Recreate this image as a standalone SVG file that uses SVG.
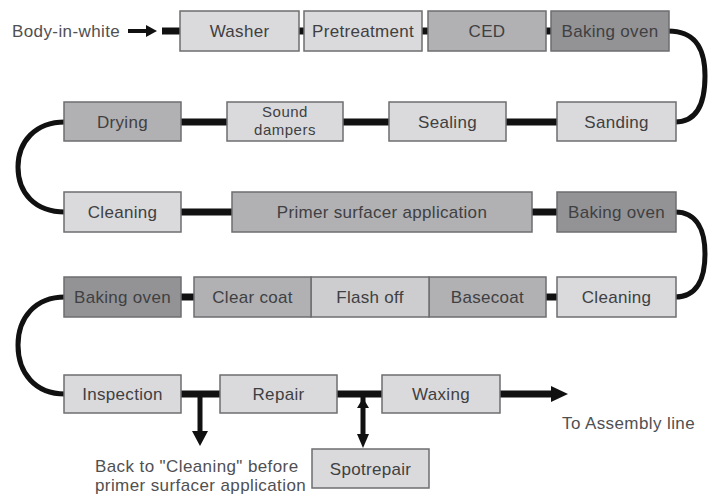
<svg xmlns="http://www.w3.org/2000/svg" width="710" height="497" viewBox="0 0 710 497">
  <style>
    .box { stroke: #6e6e70; stroke-width: 1.5; }
    .light { fill: #dadadc; }
    .mid { fill: #b1b1b4; }
    .dark { fill: #939396; }
    .flash { fill: #cdcdcf; }
    .lbl { font-family: "Liberation Sans", Arial, sans-serif; font-size: 17px; letter-spacing: 0.3px; fill: #404042; text-anchor: middle; }
    .lbl2 { font-family: "Liberation Sans", Arial, sans-serif; font-size: 15px; letter-spacing: 0.5px; fill: #404042; text-anchor: middle; }
    .note { font-family: "Liberation Sans", Arial, sans-serif; font-size: 17px; letter-spacing: 0.4px; fill: #505052; }
    .bar { stroke: #111; stroke-width: 7; fill: none; }
    .curve { stroke: #111; stroke-width: 5; fill: none; }
    .head { fill: #111; }
  </style>

  <rect width="710" height="497" fill="#ffffff"/>

  <!-- connectors -->
  <g id="connectors">
    <!-- row 1 -->
    <text class="note" x="12" y="37">Body-in-white</text>
    <line x1="128" y1="31" x2="149" y2="31" stroke="#111" stroke-width="4"/>
    <polygon class="head" points="146,25 157,31 146,37"/>
    <line class="bar" x1="162" y1="31" x2="181" y2="31"/>
    <line class="bar" x1="298" y1="31" x2="305" y2="31"/>
    <line class="bar" x1="421" y1="31" x2="429" y2="31"/>
    <line class="bar" x1="545" y1="31" x2="552" y2="31"/>
    <path class="curve" d="M668,31 C698,31 705,52 705,76 C705,101 698,122 675,122"/>
    <!-- row 2 -->
    <line class="bar" x1="505" y1="122" x2="558" y2="122"/>
    <line class="bar" x1="342" y1="122" x2="390" y2="122"/>
    <line class="bar" x1="180" y1="122" x2="228" y2="122"/>
    <path class="curve" d="M65,122 C35,122 18,142 18,167 C18,193 35,212 65,212"/>
    <!-- row 3 -->
    <line class="bar" x1="180" y1="212" x2="233" y2="212"/>
    <line class="bar" x1="531" y1="212" x2="558" y2="212"/>
    <path class="curve" d="M675,212 C698,212 705,232 705,254 C705,277 698,297 675,297"/>
    <!-- row 4 -->
    <line class="bar" x1="545" y1="297" x2="558" y2="297"/>
    <line class="bar" x1="180" y1="297" x2="195" y2="297"/>
    <path class="curve" d="M65,297 C35,297 18,318 18,345 C18,373 35,394 65,394"/>
    <!-- row 5 -->
    <line class="bar" x1="180" y1="394" x2="221" y2="394"/>
    <line class="bar" x1="336" y1="394" x2="383" y2="394"/>
    <line class="bar" x1="499" y1="394" x2="554" y2="394"/>
    <polygon class="head" points="551,386 568,394 551,402"/>
    <!-- back to cleaning -->
    <line x1="200" y1="394" x2="200" y2="433" stroke="#111" stroke-width="5"/>
    <polygon class="head" points="192,431 208,431 200,446"/>
    <!-- spot repair -->
    <line x1="363" y1="394" x2="363" y2="436" stroke="#111" stroke-width="5"/>
    <polygon class="head" points="357,408 369,408 363,398"/>
    <polygon class="head" points="357,434 369,434 363,448"/>
    <text class="note" x="562" y="429">To Assembly line</text>
    <text class="note" x="95" y="472">Back to "Cleaning" before</text>
    <text class="note" x="95" y="491">primer surfacer application</text>
  </g>

  <!-- row 1 -->
  <g id="washer"><rect class="box light" x="180" y="11" width="119" height="40"/><text class="lbl" x="239.5" y="37">Washer</text></g>
  <g id="pretreatment"><rect class="box light" x="304" y="11" width="118" height="40"/><text class="lbl" x="363" y="37">Pretreatment</text></g>
  <g id="ced"><rect class="box mid" x="428" y="11" width="118" height="40"/><text class="lbl" x="487" y="37">CED</text></g>
  <g id="baking1"><rect class="box dark" x="551" y="11" width="118" height="40"/><text class="lbl" x="610" y="37">Baking oven</text></g>

  <!-- row 2 -->
  <g id="sanding"><rect class="box light" x="557" y="102" width="119" height="39"/><text class="lbl" x="616.5" y="128">Sanding</text></g>
  <g id="sealing"><rect class="box light" x="389" y="102" width="117" height="39"/><text class="lbl" x="447.5" y="128">Sealing</text></g>
  <g id="sound-dampers"><rect class="box light" x="227" y="102" width="116" height="39"/><text class="lbl2" x="285" y="117">Sound</text><text class="lbl2" x="285" y="135">dampers</text></g>
  <g id="drying"><rect class="box mid" x="64" y="102" width="117" height="39"/><text class="lbl" x="122.5" y="128">Drying</text></g>

  <!-- row 3 -->
  <g id="cleaning1"><rect class="box light" x="64" y="192" width="117" height="40"/><text class="lbl" x="122.5" y="218">Cleaning</text></g>
  <g id="primer"><rect class="box mid" x="232" y="192" width="300" height="40"/><text class="lbl" x="382" y="218">Primer surfacer application</text></g>
  <g id="baking2"><rect class="box dark" x="557" y="192" width="119" height="40"/><text class="lbl" x="616.5" y="218">Baking oven</text></g>

  <!-- row 4 -->
  <g id="cleaning2"><rect class="box light" x="557" y="277" width="119" height="40"/><text class="lbl" x="616.5" y="303">Cleaning</text></g>
  <g id="basecoat"><rect class="box mid" x="429" y="277" width="117" height="40"/><text class="lbl" x="487.5" y="303">Basecoat</text></g>
  <g id="flash-off"><rect class="box flash" x="311" y="277" width="118" height="40"/><text class="lbl" x="370" y="303">Flash off</text></g>
  <g id="clear-coat"><rect class="box mid" x="194" y="277" width="117" height="40"/><text class="lbl" x="252.5" y="303">Clear coat</text></g>
  <g id="baking3"><rect class="box dark" x="64" y="277" width="117" height="40"/><text class="lbl" x="122.5" y="303">Baking oven</text></g>

  <!-- row 5 -->
  <g id="inspection"><rect class="box light" x="64" y="375" width="117" height="38"/><text class="lbl" x="122.5" y="400">Inspection</text></g>
  <g id="repair"><rect class="box light" x="220" y="375" width="117" height="38"/><text class="lbl" x="278.5" y="400">Repair</text></g>
  <g id="waxing"><rect class="box light" x="382" y="375" width="118" height="38"/><text class="lbl" x="441" y="400">Waxing</text></g>
  <g id="spotrepair"><rect class="box light" x="312" y="449" width="117" height="39"/><text class="lbl" x="370.5" y="475">Spotrepair</text></g>
</svg>
